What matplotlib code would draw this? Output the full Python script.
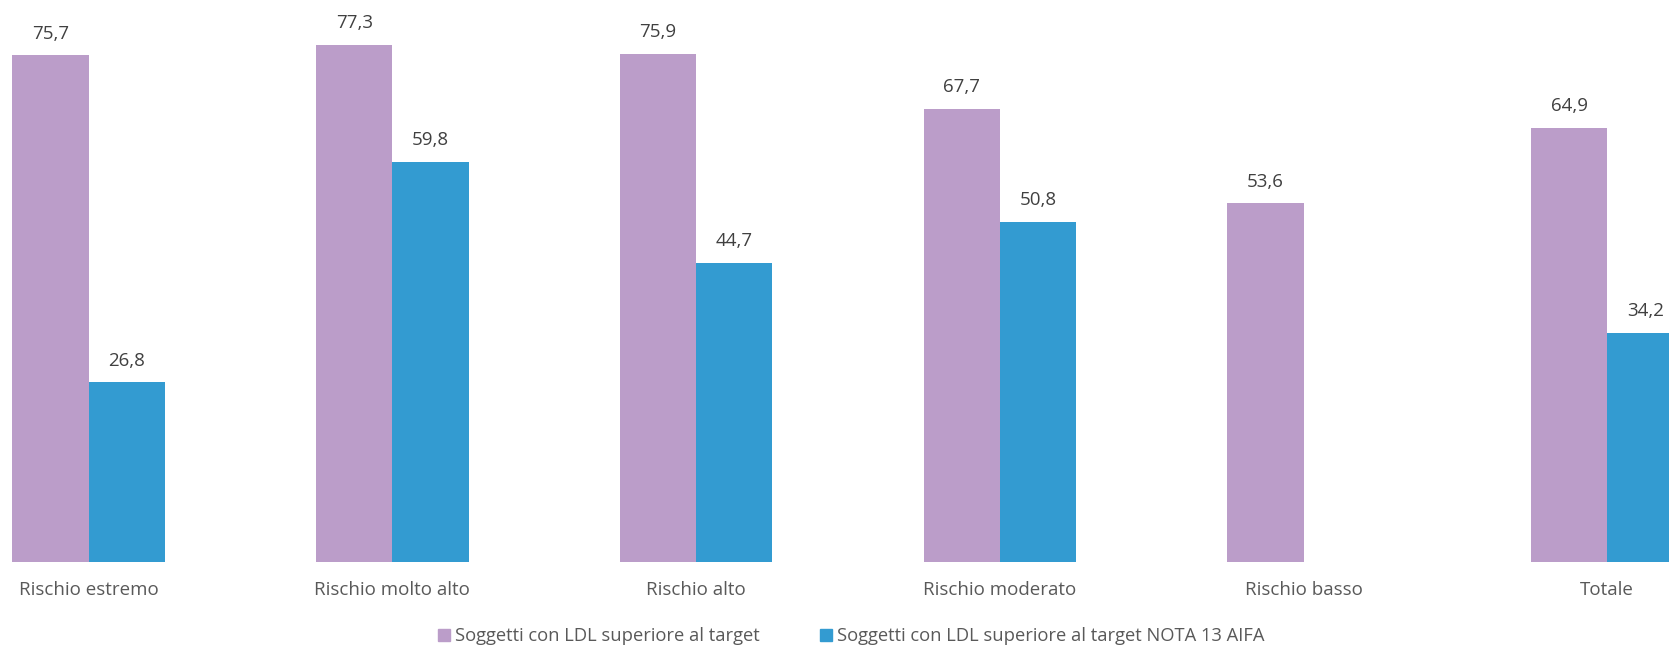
import numpy as np
import matplotlib
matplotlib.use("Agg")
import matplotlib.pyplot as plt
from matplotlib.patches import Patch

categories = ["Rischio estremo", "Rischio molto alto", "Rischio alto",
              "Rischio moderato", "Rischio basso", "Totale"]
ldl_target = [75.7, 77.3, 75.9, 67.7, 53.6, 64.9]
ldl_nota13 = [26.8, 59.8, 44.7, 50.8, np.nan, 34.2]
series_names = ["Soggetti con LDL superiore al target",
                "Soggetti con LDL superiore al target NOTA 13 AIFA"]

purple = "#BB9DC9"
blue = "#339BD1"
plt.rcParams["font.family"] = ["Open Sans", "DejaVu Sans"]
FS = 13.5

W, H = 1669, 648
fig = plt.figure(figsize=(W / 100, H / 100), dpi=100)
base = 561.7
top = 26.5
ax = fig.add_axes([0, (H - base) / H, 1, (base - top) / H])

x = np.arange(len(categories))
bw = 0.251
b1 = ax.bar(x - bw / 2, ldl_target, bw, color=purple)
b2 = ax.bar(x + bw / 2, ldl_nota13, bw, color=blue)

for bars, vals in ((b1, ldl_target), (b2, ldl_nota13)):
    for rect, v in zip(bars, vals):
        if np.isnan(v):
            continue
        ax.annotate(f"{v:.1f}".replace(".", ","),
                    (rect.get_x() + rect.get_width() / 2, v),
                    xytext=(0, 9), textcoords="offset points",
                    ha="center", va="bottom", fontsize=FS, color="#404040")

ax.set_xlim(-88.7 / 303.7, (W - 88.7) / 303.7)
ax.set_ylim(0, 80)
ax.set_xticks(x)
ax.set_xticklabels(categories, fontsize=FS, color="#595959")
ax.tick_params(axis="x", length=0, pad=14)
ax.set_yticks([])
for s in ax.spines.values():
    s.set_visible(False)

handles = [Patch(color=purple), Patch(color=blue)]
fig.legend(handles, series_names, loc="center", bbox_to_anchor=(0.510, 0.018),
           ncol=2, frameon=False, fontsize=13.2, handlelength=0.65, handleheight=0.65,
           handletextpad=0.28, columnspacing=3.25, labelcolor="#595959",
           borderpad=0)

fig.savefig("out.png", dpi=100)
